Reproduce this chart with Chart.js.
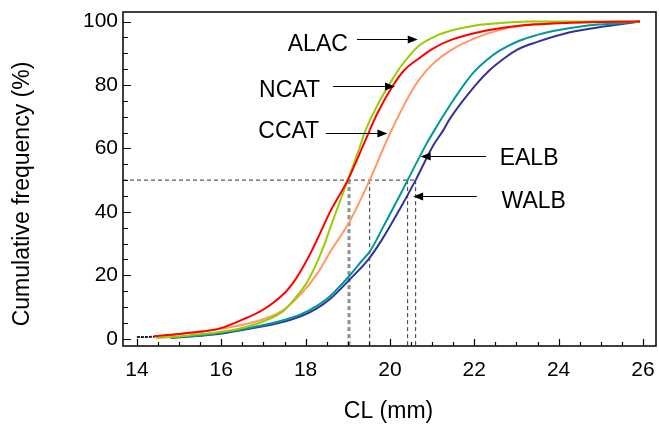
<!DOCTYPE html>
<html>
<head>
<meta charset="utf-8">
<script src="https://cdn.jsdelivr.net/npm/chart.js@4/dist/chart.umd.min.js"></script>
<style>
html,body{margin:0;padding:0;background:#fff;}
#wrap{width:659px;height:429px;}
</style>
</head>
<body>
<div id="wrap"><canvas id="c" width="659" height="429"></canvas></div>
<script>
// ---- data ----
const seriesNames = ["ALAC", "NCAT", "CCAT", "EALB", "WALB"];

const alacX = [14.45, 15.0, 15.4, 16.0, 16.44, 17.0, 17.47, 17.79, 18.02, 18.2, 18.44, 18.6, 19.0, 19.3, 19.4, 19.7, 20.0, 20.24, 20.5, 20.7, 21.1, 21.5, 22.0, 22.5, 23.3, 25.93];
const alacY = [0.3, 0.7, 1.3, 2.2, 3.2, 5.5, 8.7, 13.4, 17.5, 22, 29.5, 35.5, 50, 61, 65, 73.5, 80.5, 85.5, 89.8, 92.5, 95.5, 97.3, 98.7, 99.4, 100, 100];

const ncatX = [14.4, 15.0, 15.42, 15.93, 16.52, 17.0, 17.51, 17.7, 17.87, 18.1, 18.3, 18.58, 19.0, 19.4, 19.7, 20.08, 20.35, 20.67, 21.0, 21.45, 22.29, 23.08, 24.27, 25.93];
const ncatY = [0.8, 1.5, 2.1, 3.1, 6.1, 9.2, 14.5, 17.5, 21, 26.5, 32, 40, 50, 62, 71, 80, 84.8, 88.2, 91.3, 94.2, 97.2, 98.7, 99.6, 100];

const ccatX = [14.6, 15.42, 16.2, 16.84, 17.43, 17.9, 18.3, 18.58, 19.05, 19.52, 19.96, 20.47, 20.71, 21.03, 21.45, 22.29, 23.08, 24.08, 25.93];
const ccatY = [0.8, 2.1, 3.6, 5.5, 8.7, 14.2, 21, 27.3, 37.1, 50, 63.5, 77, 82, 86.8, 91, 96.1, 98.7, 99.6, 100];

const ealbX = [14.8, 15.81, 16.6, 17.38, 17.87, 18.26, 18.58, 19.05, 19.33, 19.53, 19.85, 20.24, 20.42, 20.87, 21.0, 21.42, 21.74, 22.0, 22.29, 22.6, 23.08, 23.5, 23.87, 24.66, 25.3, 25.93];
const ealbY = [0.3, 1.5, 3.2, 5.5, 7.6, 10.3, 13.4, 20, 24.5, 27.6, 35.5, 45.3, 50, 61.5, 64.5, 73.5, 79.8, 84.2, 87.8, 90.8, 94, 95.8, 97.0, 98.7, 99.3, 100];

const walbX = [14.8, 15.81, 16.6, 17.38, 17.87, 18.26, 18.58, 19.05, 19.49, 19.8, 20.24, 20.61, 21.03, 21.26, 21.42, 22.02, 22.35, 22.69, 23.0, 23.48, 24.27, 25.06, 25.93];
const walbY = [0.2, 1.3, 3.0, 5.0, 7.0, 9.5, 12.5, 18.7, 25, 31, 41, 50, 61, 65.6, 69.3, 79.8, 84.5, 88.2, 91.0, 93.5, 96.6, 98.4, 100];

const startX = [14.0, 14.42];
const startY = [0.5, 0.6];

// medians (50 % crossing) for ALAC, NCAT, CCAT, EALB, WALB
const medians = [19.01, 19.05, 19.52, 20.42, 20.61];
const medianLevel = 50;

const xTickLabels = [14, 16, 18, 20, 22, 24, 26];
const yTickLabels = [0, 20, 40, 60, 80, 100];

// ---- styling / layout (not data) ----
const X_MIN = 13.67, X_MAX = 26.31, Y_MIN = -2.3, Y_MAX = 103;
const FONT = '"Liberation Sans", Arial, sans-serif';
const colors = {ALAC: '#99cc00', NCAT: '#ff0000', CCAT: '#ff9966', EALB: '#009999', WALB: '#333399'};

function pts(xs, ys) { return xs.map((x, i) => ({x: x, y: ys[i]})); }

const curve = (label, xs, ys, order) => ({
  label: label, data: pts(xs, ys), borderColor: colors[label], backgroundColor: colors[label],
  borderWidth: 2, pointRadius: 0, showLine: true, fill: false, tension: 0.3,
  cubicInterpolationMode: 'monotone', order: order
});

const dashStyle = {borderColor: '#333333', borderWidth: 1, borderDash: [4, 3], pointRadius: 0, showLine: true, fill: false, tension: 0};

const datasets = [
  curve('NCAT', ncatX, ncatY, 0),
  curve('ALAC', alacX, alacY, 1),
  curve('CCAT', ccatX, ccatY, 2),
  curve('EALB', ealbX, ealbY, 3),
  curve('WALB', walbX, walbY, 4),
  Object.assign({label: 'start', data: pts(startX, startY), order: 5}, dashStyle, {borderColor: '#222', borderWidth: 2, borderDash: [3, 1]}),
  Object.assign({label: 'h50', data: [{x: X_MIN, y: medianLevel}, {x: Math.max(...medians), y: medianLevel}], order: 6}, dashStyle)
];
medians.forEach((m, i) => {
  datasets.push(Object.assign({label: 'med' + i, data: [{x: m, y: medianLevel}, {x: m, y: Y_MIN}], order: 7 + i}, dashStyle,
    i < 2 ? {borderColor: '#555555'} : {}));
});

// annotation placement (data coordinates)
const labelsAnn = [
  {text: 'ALAC', tx: 18.29, ty: 90.8, ax1: 19.22, ax2: 20.66, ay: 94.5, dir: 1},
  {text: 'NCAT', tx: 17.62, ty: 76.3, ax1: 18.65, ax2: 20.12, ay: 79.6, dir: 1},
  {text: 'CCAT', tx: 17.60, ty: 63.3, ax1: 18.48, ax2: 19.94, ay: 65.0, dir: 1},
  {text: 'EALB', tx: 23.30, ty: 54.8, ax1: 22.28, ax2: 20.73, ay: 57.7, dir: -1},
  {text: 'WALB', tx: 23.41, ty: 41.2, ax1: 22.06, ax2: 20.55, ay: 44.9, dir: -1}
];

const decor = {
  id: 'decor',
  afterDraw(chart) {
    const ctx = chart.ctx, a = chart.chartArea;
    const xs = chart.scales.x, ys = chart.scales.y;
    ctx.save();
    // frame
    ctx.strokeStyle = '#000'; ctx.lineWidth = 1.5;
    ctx.strokeRect(a.left, a.top, a.right - a.left, a.bottom - a.top);
    // inward ticks
    ctx.lineWidth = 1.2;
    ctx.beginPath();
    for (let v = 0; v <= 100; v += 5) {
      const p = Math.round(ys.getPixelForValue(v)) + 0.5;
      const len = (v % 20 === 0) ? 8 : 5;
      ctx.moveTo(a.left, p); ctx.lineTo(a.left + len, p);
    }
    for (let v = 14; v <= 26; v += 0.5) {
      const p = Math.round(xs.getPixelForValue(v)) + 0.5;
      const len = (v % 2 === 0) ? 7 : 4;
      ctx.moveTo(p, a.bottom); ctx.lineTo(p, a.bottom - len);
    }
    ctx.stroke();
    // annotations
    ctx.fillStyle = '#000'; ctx.strokeStyle = '#000'; ctx.lineWidth = 1;
    ctx.font = '23px ' + FONT;
    ctx.textAlign = 'center'; ctx.textBaseline = 'alphabetic';
    labelsAnn.forEach(l => {
      ctx.fillText(l.text, xs.getPixelForValue(l.tx), ys.getPixelForValue(l.ty));
      const x1 = xs.getPixelForValue(l.ax1), x2 = xs.getPixelForValue(l.ax2), y = Math.round(ys.getPixelForValue(l.ay)) + 0.5;
      const hl = 10 * l.dir;
      ctx.beginPath(); ctx.moveTo(x1, y); ctx.lineTo(x2 - hl, y); ctx.stroke();
      ctx.beginPath(); ctx.moveTo(x2, y); ctx.lineTo(x2 - hl, y - 4); ctx.lineTo(x2 - hl, y + 4); ctx.closePath(); ctx.fill();
    });
    // axis titles
    ctx.font = '23px ' + FONT;
    ctx.textAlign = 'center'; ctx.textBaseline = 'middle';
    ctx.fillText('CL (mm)', (a.left + a.right) / 2 - 1, 412);
    ctx.translate(23, 194); ctx.rotate(-Math.PI / 2);
    ctx.fillText('Cumulative frequency (%)', 0, 0);
    ctx.restore();
  }
};

new Chart(document.getElementById('c'), {
  type: 'scatter',
  data: {datasets: datasets},
  options: {
    responsive: false, animation: false, devicePixelRatio: 1,
    layout: {autoPadding: false, padding: {top: 12, right: 3, left: 0, bottom: 0}},
    plugins: {legend: {display: false}, tooltip: {enabled: false}},
    scales: {
      x: {
        type: 'linear', min: X_MIN, max: X_MAX,
        grid: {display: false, drawTicks: false}, border: {display: false},
        afterBuildTicks: s => { s.ticks = xTickLabels.map(v => ({value: v})); },
        afterFit: s => { s.height = 83; s.paddingLeft = 0; s.paddingRight = 0; },
        ticks: {padding: 12, color: '#000', font: {family: FONT, size: 21}, maxRotation: 0, autoSkip: false}
      },
      y: {
        type: 'linear', min: Y_MIN, max: Y_MAX,
        grid: {display: false, drawTicks: false}, border: {display: false},
        afterBuildTicks: s => { s.ticks = yTickLabels.map(v => ({value: v})); },
        afterFit: s => { s.width = 123; s.paddingTop = 0; s.paddingBottom = 0; },
        ticks: {padding: 5, color: '#000', font: {family: FONT, size: 21}, autoSkip: false}
      }
    }
  },
  plugins: [decor]
});
</script>
</body>
</html>
